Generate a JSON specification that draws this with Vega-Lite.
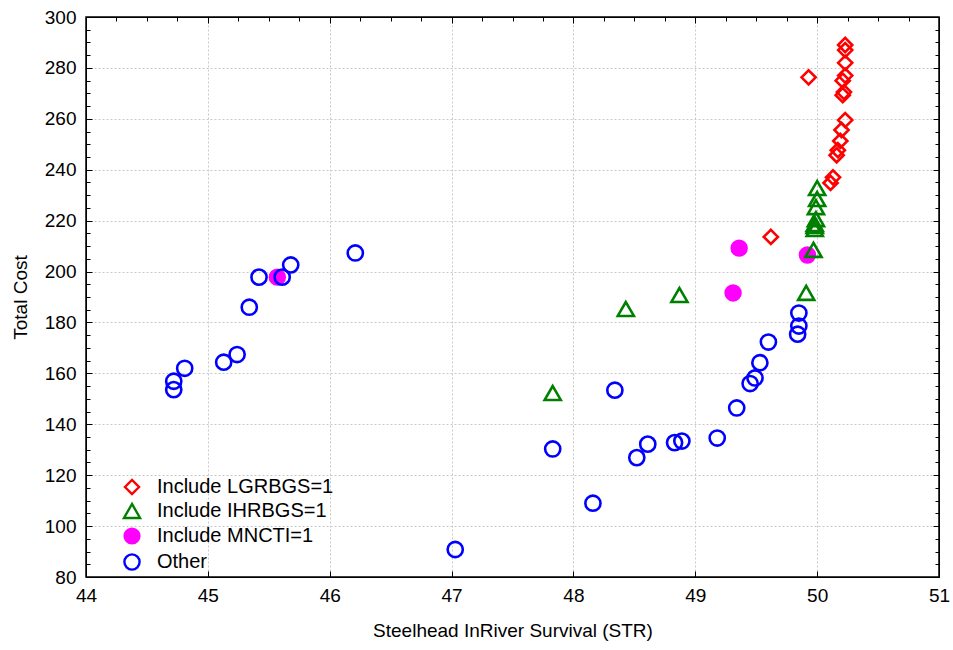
{
  "$schema": "https://vega.github.io/schema/vega-lite/v6.json",
  "width": 853,
  "height": 560,
  "autosize": {"type": "none"},
  "padding": {"left": 86, "top": 17, "right": 14, "bottom": 73},
  "background": "white",
  "config": {
    "font": "Liberation Sans",
    "view": {"stroke": "black", "strokeWidth": 1.5},
    "axis": {
      "labelFont": "Liberation Sans",
      "titleFont": "Liberation Sans",
      "labelFontSize": 19,
      "titleFontSize": 19,
      "titleFontWeight": "normal",
      "labelColor": "black",
      "titleColor": "black",
      "domainColor": "black",
      "tickColor": "black",
      "gridColor": "#c8c8c8",
      "gridDash": [2, 2],
      "gridWidth": 1
    },
    "legend": {
      "labelFont": "Liberation Sans",
      "labelFontSize": 20,
      "labelColor": "black",
      "labelLimit": 400,
      "symbolStrokeWidth": 2.4,
      "padding": 0
    }
  },
  "data": {
    "values": [
      {"x": 45.57, "y": 197.8, "g": "Include MNCTI=1"},
      {"x": 49.36, "y": 209.2, "g": "Include MNCTI=1"},
      {"x": 49.31, "y": 191.6, "g": "Include MNCTI=1"},
      {"x": 49.92, "y": 206.5, "g": "Include MNCTI=1"},
      {"x": 44.72, "y": 153.6, "g": "Other"},
      {"x": 44.72, "y": 156.9, "g": "Other"},
      {"x": 44.81, "y": 162.0, "g": "Other"},
      {"x": 45.13, "y": 164.4, "g": "Other"},
      {"x": 45.24, "y": 167.4, "g": "Other"},
      {"x": 45.34, "y": 186.0, "g": "Other"},
      {"x": 45.42, "y": 197.8, "g": "Other"},
      {"x": 45.61, "y": 197.8, "g": "Other"},
      {"x": 45.68, "y": 202.6, "g": "Other"},
      {"x": 46.21, "y": 207.3, "g": "Other"},
      {"x": 47.03, "y": 90.8, "g": "Other"},
      {"x": 47.83, "y": 130.3, "g": "Other"},
      {"x": 48.16, "y": 109.0, "g": "Other"},
      {"x": 48.34, "y": 153.4, "g": "Other"},
      {"x": 48.52, "y": 126.9, "g": "Other"},
      {"x": 48.61, "y": 132.2, "g": "Other"},
      {"x": 48.83, "y": 132.8, "g": "Other"},
      {"x": 48.89, "y": 133.4, "g": "Other"},
      {"x": 49.18, "y": 134.6, "g": "Other"},
      {"x": 49.34, "y": 146.4, "g": "Other"},
      {"x": 49.45, "y": 156.0, "g": "Other"},
      {"x": 49.49, "y": 158.2, "g": "Other"},
      {"x": 49.53, "y": 164.2, "g": "Other"},
      {"x": 49.60, "y": 172.3, "g": "Other"},
      {"x": 49.84, "y": 175.4, "g": "Other"},
      {"x": 49.85, "y": 178.6, "g": "Other"},
      {"x": 49.85, "y": 183.7, "g": "Other"},
      {"x": 47.83, "y": 152.3, "g": "Include IHRBGS=1"},
      {"x": 48.43, "y": 185.3, "g": "Include IHRBGS=1"},
      {"x": 48.87, "y": 190.8, "g": "Include IHRBGS=1"},
      {"x": 49.91, "y": 191.6, "g": "Include IHRBGS=1"},
      {"x": 49.97, "y": 208.5, "g": "Include IHRBGS=1"},
      {"x": 49.98, "y": 216.7, "g": "Include IHRBGS=1"},
      {"x": 49.98, "y": 217.9, "g": "Include IHRBGS=1"},
      {"x": 49.98, "y": 218.7, "g": "Include IHRBGS=1"},
      {"x": 49.99, "y": 220.6, "g": "Include IHRBGS=1"},
      {"x": 49.99, "y": 225.3, "g": "Include IHRBGS=1"},
      {"x": 50.0, "y": 228.5, "g": "Include IHRBGS=1"},
      {"x": 50.0, "y": 232.8, "g": "Include IHRBGS=1"},
      {"x": 49.62, "y": 213.6, "g": "Include LGRBGS=1"},
      {"x": 49.93, "y": 276.3, "g": "Include LGRBGS=1"},
      {"x": 50.11, "y": 234.8, "g": "Include LGRBGS=1"},
      {"x": 50.13, "y": 237.0, "g": "Include LGRBGS=1"},
      {"x": 50.16, "y": 245.7, "g": "Include LGRBGS=1"},
      {"x": 50.17, "y": 247.7, "g": "Include LGRBGS=1"},
      {"x": 50.19, "y": 251.3, "g": "Include LGRBGS=1"},
      {"x": 50.20, "y": 255.6, "g": "Include LGRBGS=1"},
      {"x": 50.23, "y": 259.5, "g": "Include LGRBGS=1"},
      {"x": 50.21, "y": 269.3, "g": "Include LGRBGS=1"},
      {"x": 50.22, "y": 270.5, "g": "Include LGRBGS=1"},
      {"x": 50.21, "y": 275.0, "g": "Include LGRBGS=1"},
      {"x": 50.23, "y": 277.0, "g": "Include LGRBGS=1"},
      {"x": 50.23, "y": 282.0, "g": "Include LGRBGS=1"},
      {"x": 50.23, "y": 287.0, "g": "Include LGRBGS=1"},
      {"x": 50.23, "y": 289.0, "g": "Include LGRBGS=1"}
    ]
  },
  "layer": [
    {
      "mark": {"type": "point", "strokeWidth": 2.6, "opacity": 1},
      "encoding": {
        "x": {
          "field": "x", "type": "quantitative",
          "scale": {"domain": [44, 51], "nice": false, "zero": false},
          "axis": {
            "title": "Steelhead InRiver Survival (STR)",
            "format": "d",
            "values": [44,44.25,44.5,44.75,45,45.25,45.5,45.75,46,46.25,46.5,46.75,47,47.25,47.5,47.75,48,48.25,48.5,48.75,49,49.25,49.5,49.75,50,50.25,50.5,50.75,51],
            "labelExpr": "datum.value % 1 === 0 ? format(datum.value, 'd') : ''",
            "tickSize": {"condition": {"test": "datum.value % 1 === 0", "value": -6}, "value": -4},
            "gridOpacity": {"condition": {"test": "datum.value % 1 === 0", "value": 1}, "value": 0},
            "labelPadding": 15,
            "titlePadding": 16,
            "labelFlush": false,
            "labelOverlap": false
          }
        },
        "y": {
          "field": "y", "type": "quantitative",
          "scale": {"domain": [80, 300], "nice": false, "zero": false},
          "axis": {
            "title": "Total Cost",
            "values": [80,85,90,95,100,105,110,115,120,125,130,135,140,145,150,155,160,165,170,175,180,185,190,195,200,205,210,215,220,225,230,235,240,245,250,255,260,265,270,275,280,285,290,295,300],
            "labelExpr": "datum.value % 20 === 0 ? datum.label : ''",
            "tickSize": {"condition": {"test": "datum.value % 20 === 0", "value": -6}, "value": -4},
            "gridOpacity": {"condition": {"test": "datum.value % 20 === 0", "value": 1}, "value": 0},
            "labelPadding": 16,
            "titlePadding": 14,
            "labelFlush": false,
            "labelOverlap": false
          }
        },
        "shape": {
          "field": "g", "type": "nominal",
          "scale": {"domain": ["Include LGRBGS=1", "Include IHRBGS=1", "Include MNCTI=1", "Other"], "range": ["diamond", "triangle-up", "circle", "circle"]},
          "legend": {
            "title": null,
            "orient": "none",
            "legendX": 36,
            "legendY": 460,
            "rowPadding": 0,
            "labelOffset": 15,
            "labelFontSize": 20,
            "labelLimit": 400
          }
        },
        "stroke": {
          "field": "g", "type": "nominal",
          "scale": {"domain": ["Include LGRBGS=1", "Include IHRBGS=1", "Include MNCTI=1", "Other"], "range": ["#ff0000", "#008000", "#ff00ff", "#0000ff"]}
        },
        "fill": {
          "field": "g", "type": "nominal",
          "scale": {"domain": ["Include LGRBGS=1", "Include IHRBGS=1", "Include MNCTI=1", "Other"], "range": ["transparent", "transparent", "#ff00ff", "transparent"]}
        },
        "size": {
          "field": "g", "type": "nominal",
          "scale": {"type": "ordinal", "domain": ["Include LGRBGS=1", "Include IHRBGS=1", "Include MNCTI=1", "Other"], "range": [200, 260, 220, 230]}
        }
      }
    },
    {
      "mark": {"type": "point", "opacity": 0},
      "encoding": {
        "x": {
          "field": "x", "type": "quantitative",
          "axis": {
            "orient": "top", "title": null, "grid": false, "labels": false,
            "values": [44,44.25,44.5,44.75,45,45.25,45.5,45.75,46,46.25,46.5,46.75,47,47.25,47.5,47.75,48,48.25,48.5,48.75,49,49.25,49.5,49.75,50,50.25,50.5,50.75,51],
            "tickSize": {"condition": {"test": "datum.value % 1 === 0", "value": -6}, "value": -4}
          }
        },
        "y": {
          "field": "y", "type": "quantitative",
          "axis": {
            "orient": "right", "title": null, "grid": false, "labels": false,
            "values": [80,85,90,95,100,105,110,115,120,125,130,135,140,145,150,155,160,165,170,175,180,185,190,195,200,205,210,215,220,225,230,235,240,245,250,255,260,265,270,275,280,285,290,295,300],
            "tickSize": {"condition": {"test": "datum.value % 20 === 0", "value": -6}, "value": -4}
          }
        }
      }
    }
  ],
  "resolve": {"axis": {"x": "independent", "y": "independent"}}
}
